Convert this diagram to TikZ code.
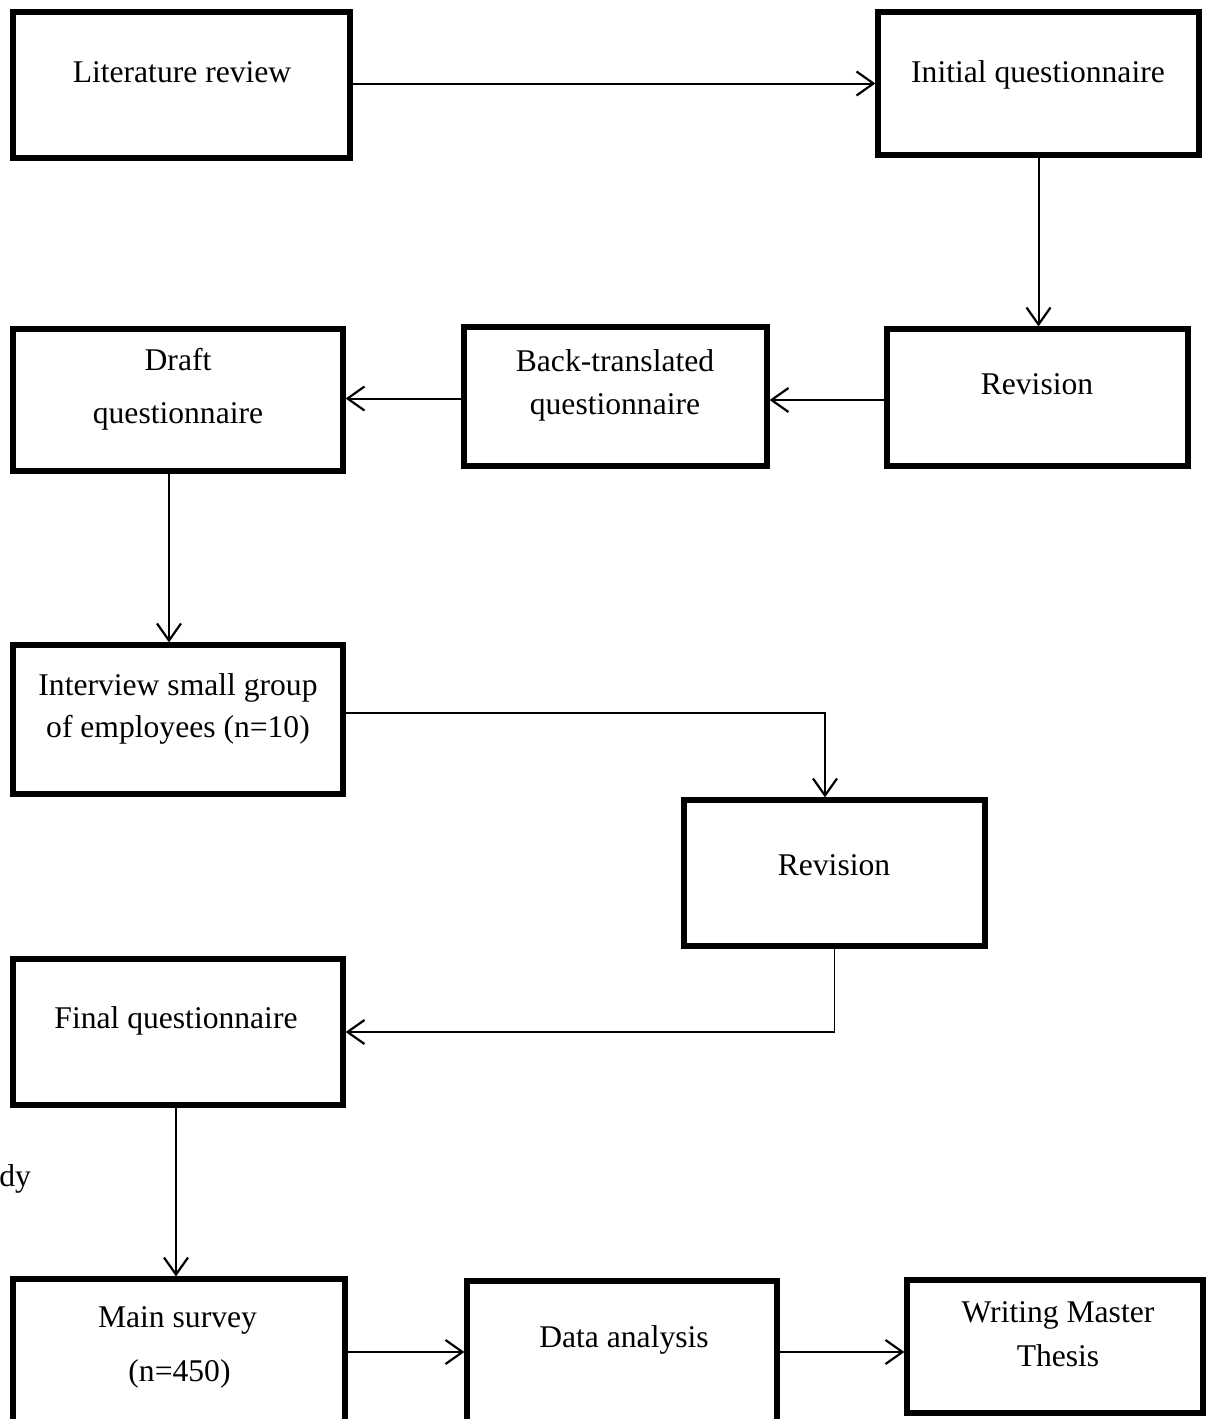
\documentclass[tikz,border=0pt]{standalone}
\usepackage{fontspec}
\setmainfont{Liberation Serif}
\usetikzlibrary{arrows.meta}
\tikzset{
  stagebox/.style={draw, line width=2.6pt, inner sep=0pt, fill=none},
  lbl/.style={anchor=base, inner sep=0pt, font=\fontsize{15.8}{21}\selectfont},
  flow/.style={line width=1pt, -{Straight Barb[length=8.5pt,width=12pt,line width=1.1pt]}},
  thinflow/.style={line width=0.75pt, -{Straight Barb[length=8.5pt,width=12pt,line width=1.1pt]}},
}
\begin{document}
\begin{tikzpicture}[x=0.5pt,y=-0.5pt]
\useasboundingbox (0,0) rectangle (1210,1419);
\clip (0,0) rectangle (1210,1419);

% stage boxes
\node[stagebox, minimum width=168.5pt, minimum height=73pt]   (lit)   at (181.5,85)    {};
\node[stagebox, minimum width=160.5pt, minimum height=71.5pt] (iq)    at (1038.5,83.5) {};
\node[stagebox, minimum width=150.5pt, minimum height=68.5pt] (rev1)  at (1037.5,397.5){};
\node[stagebox, minimum width=151.5pt, minimum height=69.5pt] (bt)    at (615.5,396.5) {};
\node[stagebox, minimum width=165pt,   minimum height=71pt]   (draft) at (178,400)     {};
\node[stagebox, minimum width=165pt,   minimum height=74.5pt] (inter) at (178,719.5)   {};
\node[stagebox, minimum width=150.5pt, minimum height=73pt]   (rev2)  at (834.5,873)   {};
\node[stagebox, minimum width=165pt,   minimum height=73pt]   (final) at (178,1032)    {};
\node[stagebox, minimum width=166pt,   minimum height=80.5pt] (main)  at (179,1359.5)  {};
\node[stagebox, minimum width=155pt,   minimum height=79.5pt] (da)    at (622,1360.5)  {};
\node[stagebox, minimum width=148pt,   minimum height=66.5pt] (wmt)   at (1055,1346.5) {};

% box texts
\node[lbl] (tlit)   at (182,82)    {Literature review};
\node[lbl] (tiq)    at (1038,82)   {Initial questionnaire};
\node[lbl] (trev1)  at (1037,394)  {Revision};
\node[lbl] (tbt1)   at (615,371)   {Back-translated};
\node[lbl] (tbt2)   at (615,414)   {questionnaire};
\node[lbl] (tdr1)   at (178,370)   {Draft};
\node[lbl] (tdr2)   at (178,423)   {questionnaire};
\node[lbl] (tin1)   at (178,695)   {Interview small group};
\node[lbl] (tin2)   at (178,737)   {of employees (n=10)};
\node[lbl] (trev2)  at (834,875)   {Revision};
\node[lbl] (tfin)   at (176,1028)  {Final questionnaire};
\node[lbl] (tmain1) at (177.5,1327){Main survey};
\node[lbl] (tmain2) at (179.5,1381){(n=450)};
\node[lbl] (tda)    at (624,1347)  {Data analysis};
\node[lbl] (twmt1)  at (1058,1322) {Writing Master};
\node[lbl] (twmt2)  at (1058,1366) {Thesis};
\node[lbl, anchor=base west] (tdy) at (-1,1186) {dy};

% connectors
\coordinate (row) at (0,1352);
\draw[flow] (lit.east |- iq.west) -- (iq.west);
\draw[flow] (iq.south) -- (iq.south |- rev1.north);
\draw[flow] ([yshift=-1.25pt]rev1.west) -- ([yshift=-1.25pt]rev1.west -| bt.east);
\draw[flow] ([yshift=-1pt]bt.west) -- ([yshift=-1pt]bt.west -| draft.east);
\draw[flow] ([xshift=-4.5pt]draft.south) -- ([xshift=-4.5pt]draft.south |- inter.north);
\draw[thinflow] ([yshift=3.25pt]inter.east) -| ([xshift=-4.75pt]rev2.north);
\draw[thinflow] (rev2.south) |- (final.east);
\draw[flow] ([xshift=-1pt]final.south) -- ([xshift=-1pt]final.south |- main.north);
\draw[flow] (main.east |- row) -- (da.west |- row);
\draw[flow] (da.east |- row) -- (wmt.west |- row);
\end{tikzpicture}
\end{document}
